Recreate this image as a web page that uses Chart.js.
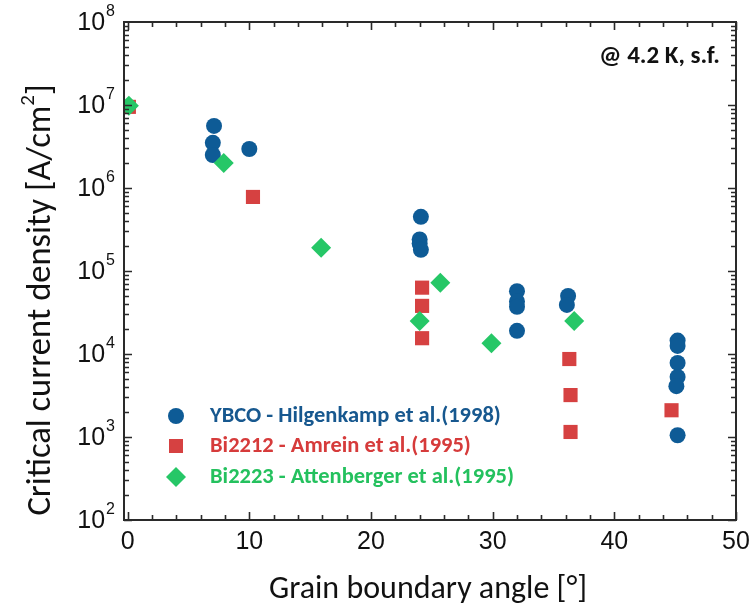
<!DOCTYPE html>
<html>
<head>
<meta charset="utf-8">
<script src="https://cdn.jsdelivr.net/npm/chart.js@4/dist/chart.umd.min.js"></script>
<style>
  html, body { margin: 0; padding: 0; background: #ffffff; }
  #wrap { width: 751px; height: 611px; position: relative; }
</style>
</head>
<body>
<div id="wrap"><canvas id="c" width="751" height="611"></canvas></div>
<script>
// ---------- data ----------
const seriesNames = [
  'YBCO - Hilgenkamp et al.(1998)',
  'Bi2212 - Amrein et al.(1995)',
  'Bi2223 - Attenberger et al.(1995)'
];
const ybcoAngle = [7.1, 7.0, 7.0, 10.0, 24.1, 24.0, 24.0, 24.1, 32.0, 32.0, 32.0, 32.0, 36.2, 36.1, 45.2, 45.2, 45.2, 45.2, 45.1, 45.2];
const ybcoJc    = [5.6e6, 3.5e6, 2.5e6, 2.95e6, 4.5e5, 2.4e5, 2.15e5, 1.8e5, 5.7e4, 4.3e4, 3.7e4, 1.9e4, 5.0e4, 3.9e4, 1.45e4, 1.25e4, 7.8e3, 5.3e3, 4.1e3, 1.05e3];
const bi2212Angle = [0.1, 10.3, 24.2, 24.2, 24.2, 36.3, 36.4, 36.4, 44.7];
const bi2212Jc    = [9.5e6, 7.8e5, 6.3e4, 3.8e4, 1.55e4, 8.7e3, 3.2e3, 1.15e3, 2.1e3];
const bi2223Angle = [0.1, 7.9, 15.9, 24.0, 25.7, 29.9, 36.7];
const bi2223Jc    = [9.8e6, 2.0e6, 1.9e5, 2.5e4, 7.2e4, 1.35e4, 2.5e4];

const xTickValues = [0, 10, 20, 30, 40, 50];
const xTickLabels = ['0', '10', '20', '30', '40', '50'];
const yTickExponents = [2, 3, 4, 5, 6, 7, 8];
const xTitle = 'Grain boundary angle [°]';
const yTitleMain = 'Critical current density [A/cm';
const yTitleSup = '2';
const yTitleEnd = ']';
const noteText = '@ 4.2 K, s.f.';

// ---------- styles ----------
const colBlue = '#0e5b96', colRed = '#d64141', colGreen = '#26c767';
const txtBlue = '#17588f', txtRed = '#d63b3b', txtGreen = '#24c15e';
const axisCol = '#2a2a2a';
const titleFont = 'Carlito, Lato, sans-serif';

function pts(xs, ys) { return xs.map((v, i) => ({ x: v, y: ys[i] })); }

const axesPlugin = {
  id: 'customAxes',
  afterDatasetsDraw(chart) {
    const { ctx, chartArea: a, scales: { x, y } } = chart;
    ctx.save();
    ctx.strokeStyle = axisCol;
    ctx.lineWidth = 2;
    ctx.strokeRect(a.left, a.top, a.right - a.left, a.bottom - a.top);
    ctx.lineWidth = 1.6;
    ctx.beginPath();
    for (let v = 0; v <= 50; v += 2) {
      const px = Math.round(x.getPixelForValue(v)) + 0.5;
      const len = (v % 10 === 0) ? 8 : 5;
      ctx.moveTo(px, a.bottom); ctx.lineTo(px, a.bottom - len);
      ctx.moveTo(px, a.top); ctx.lineTo(px, a.top + len);
    }
    for (let e = yTickExponents[0]; e < yTickExponents[yTickExponents.length - 1]; e++) {
      for (let m = 1; m < 10; m++) {
        const py = Math.round(y.getPixelForValue(m * Math.pow(10, e))) + 0.5;
        const len = (m === 1) ? 8 : 5;
        ctx.moveTo(a.left, py); ctx.lineTo(a.left + len, py);
        ctx.moveTo(a.right, py); ctx.lineTo(a.right - len, py);
      }
    }
    ctx.stroke();
    ctx.restore();
  },
  afterDraw(chart) {
    const { ctx, chartArea: a, scales: { x, y } } = chart;
    ctx.save();
    ctx.fillStyle = '#111111';
    // x tick labels
    ctx.font = '25px "Liberation Sans", Arial, sans-serif';
    ctx.textAlign = 'center';
    ctx.textBaseline = 'middle';
    xTickValues.forEach((v, i) => {
      ctx.fillText(xTickLabels[i], x.getPixelForValue(v), a.bottom + 22);
    });
    // y tick labels with superscript exponent
    yTickExponents.forEach(e => {
      const py = y.getPixelForValue(Math.pow(10, e));
      ctx.font = '16px "Liberation Sans", Arial, sans-serif';
      const ew = ctx.measureText(String(e)).width;
      ctx.textAlign = 'right';
      ctx.textBaseline = 'middle';
      const right = a.left - 9;
      ctx.fillText(String(e), right, py - 10);
      ctx.font = '25px "Liberation Sans", Arial, sans-serif';
      ctx.fillText('10', right - ew - 1, py + 1);
    });
    // x title
    ctx.font = '32px ' + titleFont;
    ctx.textAlign = 'center';
    ctx.textBaseline = 'middle';
    ctx.fillText(xTitle, (a.left + a.right) / 2 - 2, 590);
    // y title (rotated)
    ctx.save();
    ctx.translate(41, 300);
    ctx.rotate(-Math.PI / 2);
    const bigF = '34.5px ' + titleFont, supF = '21px ' + titleFont;
    ctx.font = bigF;
    const w1 = ctx.measureText(yTitleMain).width;
    const w3 = ctx.measureText(yTitleEnd).width;
    ctx.font = supF;
    const w2 = ctx.measureText(yTitleSup).width;
    const total = w1 + w2 + w3;
    const sx = -total / 2;
    ctx.textAlign = 'left';
    ctx.textBaseline = 'middle';
    ctx.font = bigF;
    ctx.fillText(yTitleMain, sx, 0);
    ctx.font = supF;
    ctx.fillText(yTitleSup, sx + w1, -12);
    ctx.font = bigF;
    ctx.fillText(yTitleEnd, sx + w1 + w2, 0);
    ctx.restore();
    // note
    ctx.font = 'bold 25px ' + titleFont;
    ctx.textAlign = 'right';
    ctx.textBaseline = 'middle';
    ctx.fillText(noteText, a.right - 16, 57);
    // legend
    const legendColors = [txtBlue, txtRed, txtGreen];
    const legendRows = [416, 446, 477];
    chart.data.datasets.forEach((ds, i) => {
      const cy = legendRows[i];
      const cx = 176;
      ctx.fillStyle = ds.backgroundColor;
      ctx.beginPath();
      if (ds.pointStyle === 'circle') {
        ctx.arc(cx, cy, 8, 0, Math.PI * 2);
      } else if (ds.pointStyle === 'rect') {
        ctx.rect(cx - 7, cy - 7, 14, 14);
      } else {
        ctx.moveTo(cx - 10, cy); ctx.lineTo(cx, cy - 10); ctx.lineTo(cx + 10, cy); ctx.lineTo(cx, cy + 10); ctx.closePath();
      }
      ctx.fill();
      ctx.fillStyle = legendColors[i];
      ctx.font = 'bold 22.5px ' + titleFont;
      ctx.textAlign = 'left';
      ctx.textBaseline = 'middle';
      ctx.fillText(ds.label, 210, cy);
    });
    ctx.restore();
  }
};

new Chart(document.getElementById('c'), {
  type: 'scatter',
  data: {
    datasets: [
      { label: seriesNames[0], data: pts(ybcoAngle, ybcoJc), pointStyle: 'circle', pointRadius: 8,
        backgroundColor: colBlue, borderColor: colBlue, borderWidth: 0, order: 2, clip: 0 },
      { label: seriesNames[1], data: pts(bi2212Angle, bi2212Jc), pointStyle: 'rect', pointRadius: 10,
        backgroundColor: colRed, borderColor: colRed, borderWidth: 0, order: 3, clip: 0 },
      { label: seriesNames[2], data: pts(bi2223Angle, bi2223Jc), pointStyle: 'rectRot', pointRadius: 10,
        backgroundColor: colGreen, borderColor: colGreen, borderWidth: 0, order: 1, clip: 0 }
    ]
  },
  options: {
    responsive: false,
    animation: false,
    layout: { padding: { left: 124, top: 22, right: 15, bottom: 91 } },
    scales: {
      x: { type: 'linear', min: -0.3, max: 50, display: false },
      y: { type: 'logarithmic', min: 100, max: 1e8, display: false }
    },
    plugins: { legend: { display: false }, tooltip: { enabled: false } }
  },
  plugins: [axesPlugin]
});
</script>
</body>
</html>
